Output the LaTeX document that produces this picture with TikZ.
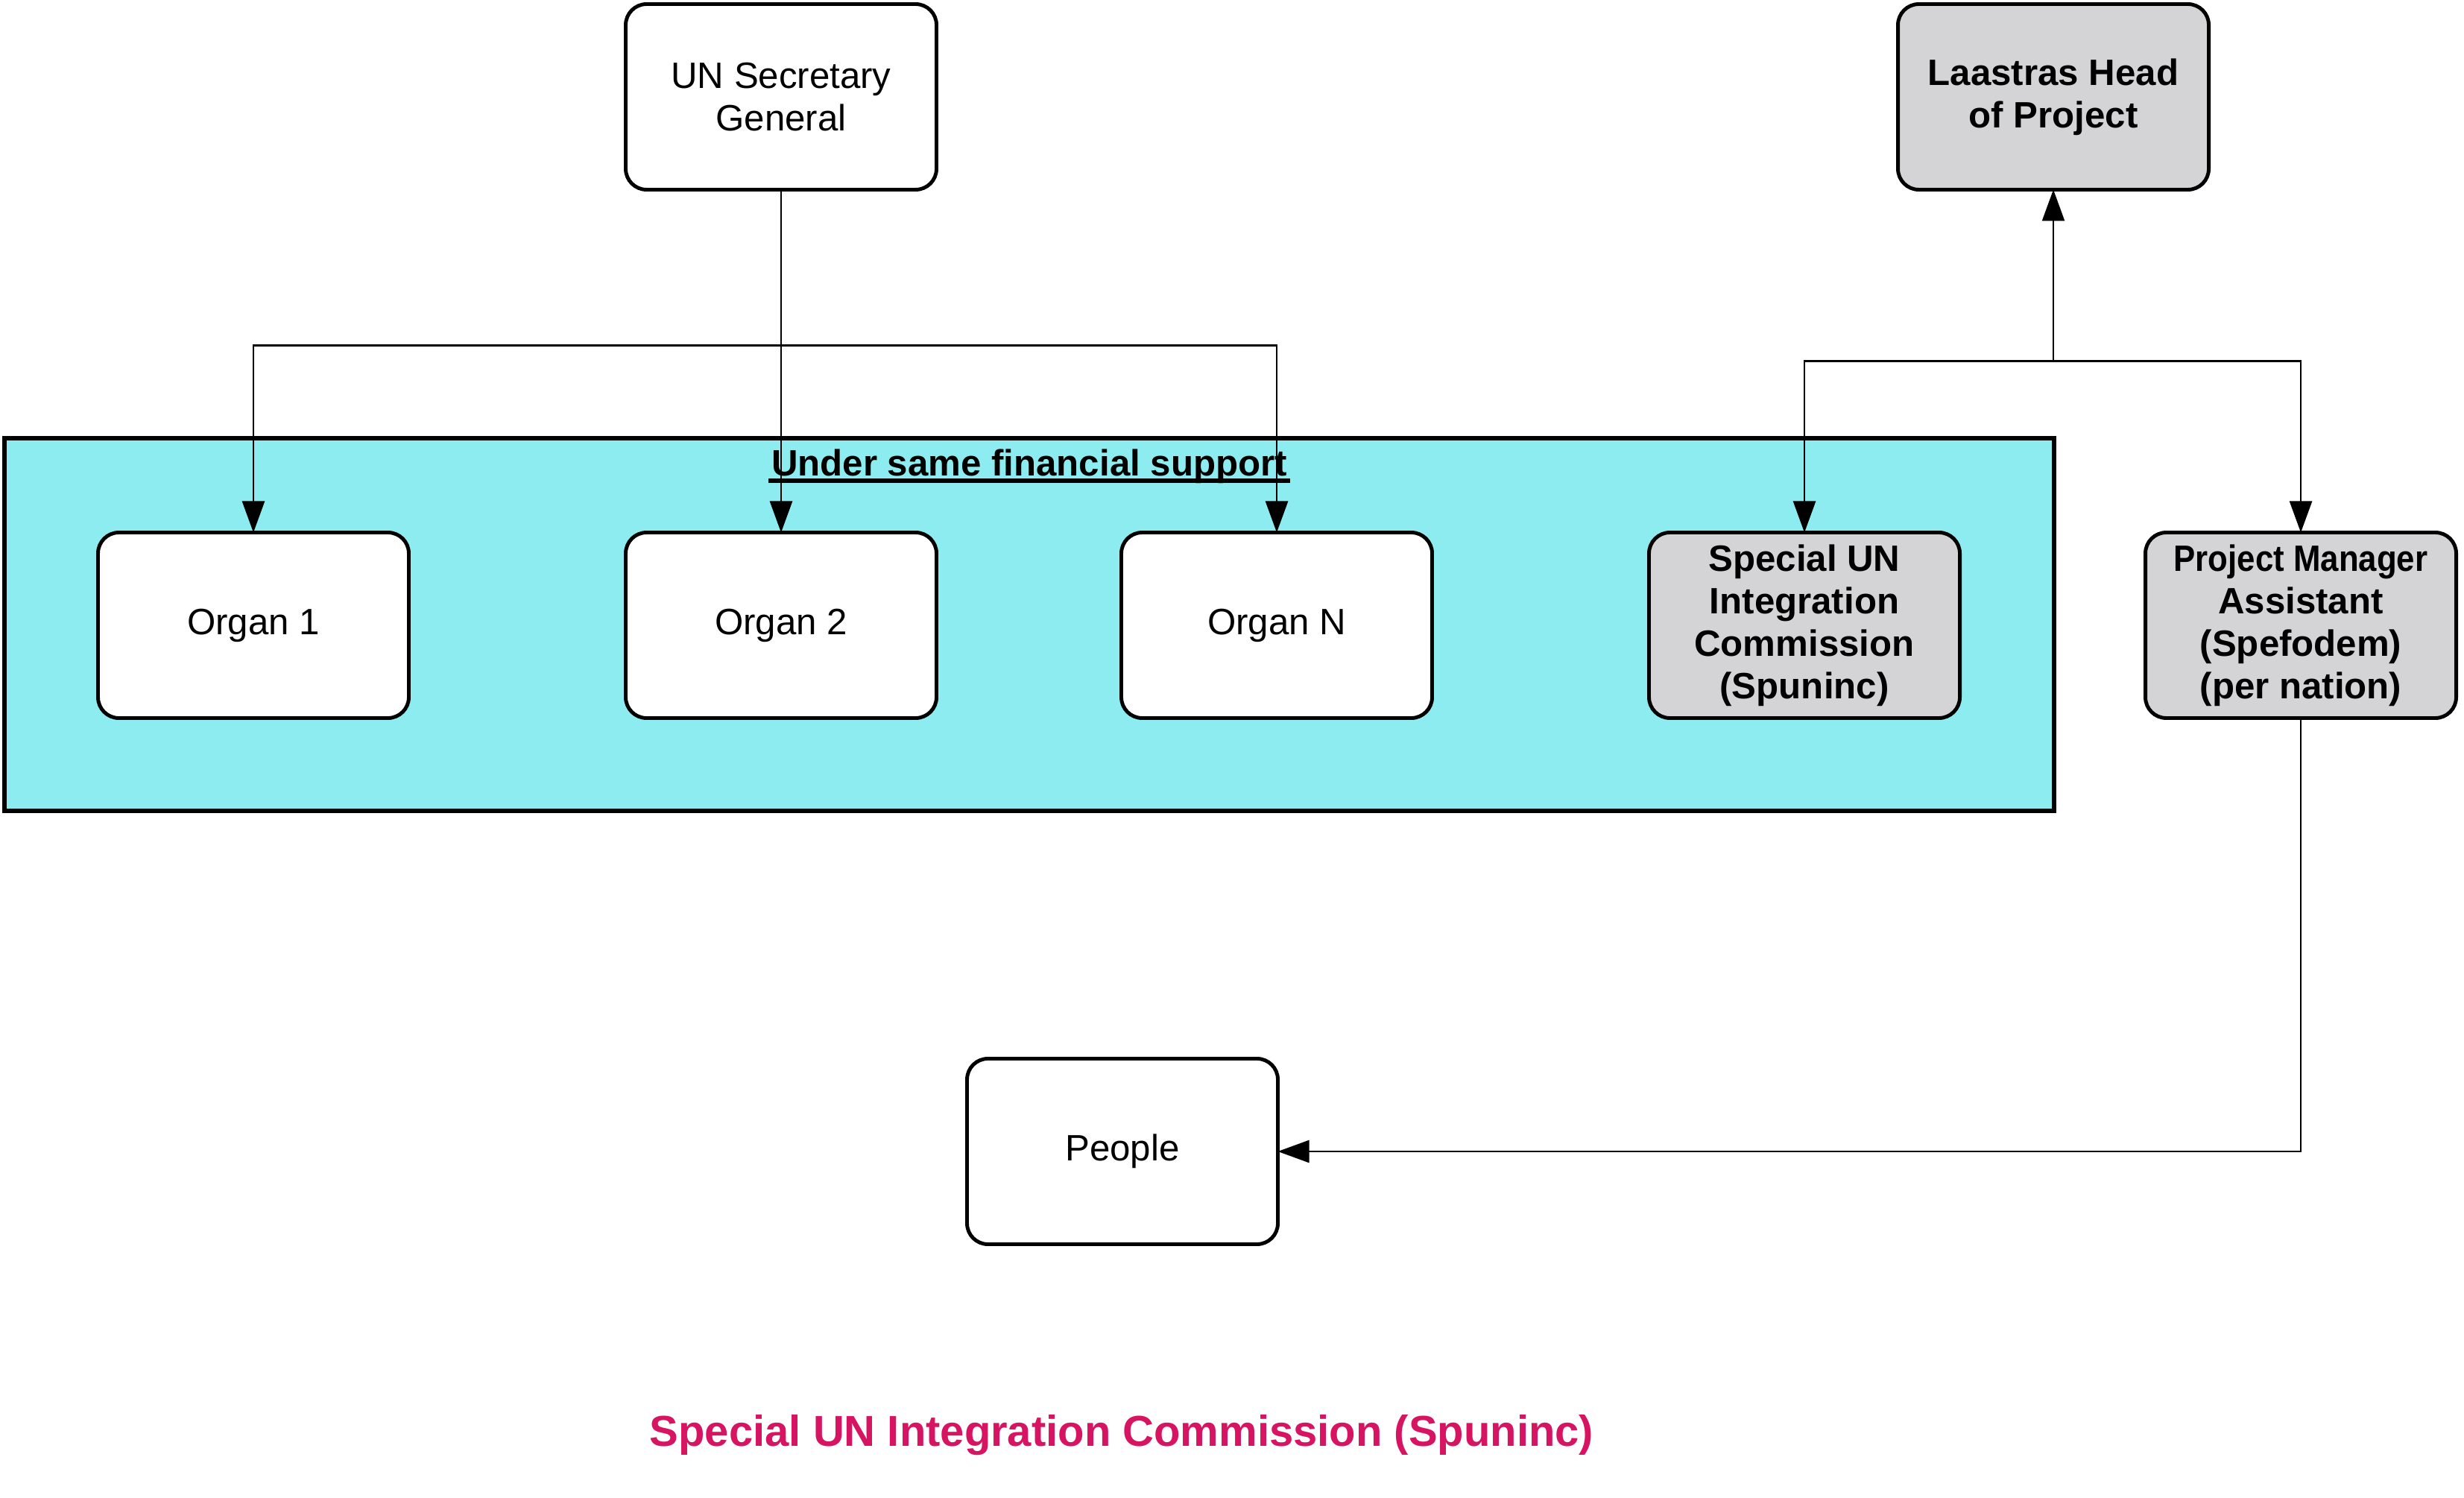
\documentclass[tikz,border=0pt]{standalone}
\usepackage{fontspec}
\usepackage{graphicx}
\setmainfont{Liberation Sans}
\usetikzlibrary{positioning,arrows.meta,calc}

\definecolor{fundcyan}{RGB}{140,236,239}
\definecolor{leadgray}{RGB}{212,212,214}
\definecolor{titlepink}{RGB}{214,20,98}

\tikzset{
  organ/.style={draw, rounded corners=0.28cm, line width=1.4pt, fill=white,
    minimum width=4.17cm, minimum height=2.49cm, align=center, outer sep=0pt,
    font=\fontsize{14}{16.2}\selectfont},
  lead/.style={organ, fill=leadgray, font=\fontsize{14}{16.2}\selectfont\bfseries},
  link/.style={-{Triangle[length=0.42cm,width=0.3cm]}, line width=0.7pt},
}

\begin{document}
\begin{tikzpicture}
  \useasboundingbox (0,0) rectangle (33.06,-20.10);

  % financial support panel
  \node[draw, fill=fundcyan, line width=1.6pt, outer sep=0pt,
        minimum width=27.50cm, minimum height=5.00cm] (fund) at (13.81,-8.38) {};
  \node[anchor=base, inner sep=0pt, font=\fontsize{14}{16.2}\selectfont\bfseries] (fundlabel) at (13.81,-6.39)
        {Under same financial support};
  \draw[line width=1.6pt] ([shift={(-0.03,-0.06)}]fundlabel.base west) -- ([shift={(0.03,-0.06)}]fundlabel.base east);

  \node[organ] (sg) at (10.48,-1.30) {UN Secretary\\General};
  \node[organ, below=4.60 of sg] (o2) {Organ 2};
  \node[organ, left=2.91 of o2] (o1) {Organ 1};
  \node[organ, right=2.48 of o2] (on) {Organ N};
  \node[lead, right=2.91 of on] (sp) {Special UN\\Integration\\Commission\\(Spuninc)};
  \node[lead, right=2.49 of sp] (pma) {\scalebox{0.89}[1]{Project Manager}\\Assistant\\(Spefodem)\\(per nation)};
  \node[lead, above=4.60 of sp, xshift=3.34cm] (lh) {Laastras Head\\of Project};
  \node[organ] (people) at (15.06,-15.45) {People};

  \node[anchor=base, text=titlepink, font=\fontsize{16.5}{19}\selectfont\bfseries] (title) at (15.05,-19.40)
        {Special UN Integration Commission (Spuninc)};

  \coordinate (split) at ($(sg.south)+(0,-2.09)$);
  \coordinate (join) at ($(lh.south)+(0,-2.30)$);

  \draw[link] (sg.south) -- (o2.north);
  \draw[link] (split) -| (o1.north);
  \draw[link] (split) -| (on.north);

  \draw[link] (join) -- (lh.south);
  \draw[link] (join) -| (sp.north);
  \draw[link] (join) -| (pma.north);

  \draw[link] (pma.south) |- (people.east);
\end{tikzpicture}
\end{document}
